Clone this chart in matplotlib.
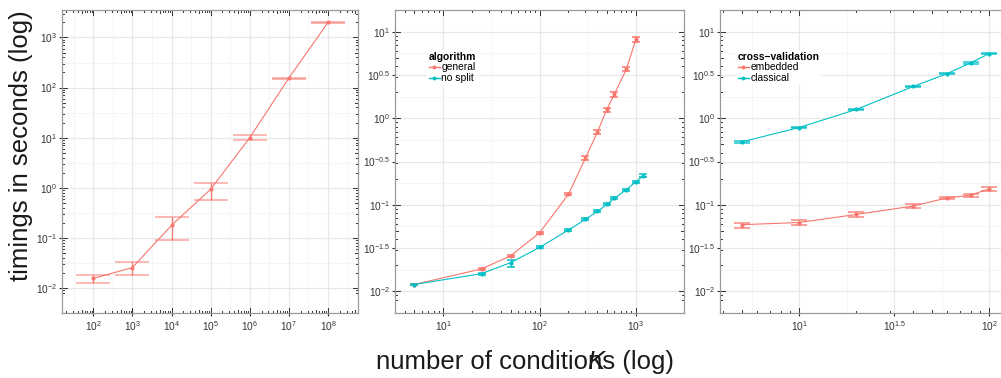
import numpy as np
import matplotlib
matplotlib.use("Agg")
import matplotlib.pyplot as plt
from matplotlib.lines import Line2D
from matplotlib.transforms import blended_transform_factory
from matplotlib.text import Text

plt.rcParams['font.family'] = ['Liberation Sans', 'DejaVu Sans']
plt.rcParams['mathtext.fontset'] = 'custom'
plt.rcParams['mathtext.rm'] = 'Liberation Sans'
plt.rcParams['mathtext.it'] = 'Liberation Sans:italic'
plt.rcParams['mathtext.bf'] = 'Liberation Sans:bold'

RED = '#F8766D'
CYAN = '#00BFC4'

# ---------------- data ----------------
# panel 1: timings vs number of conditions K
p1_K = [1e2, 1e3, 1e4, 1e5, 1e6, 1e7, 1e8]
p1_time = [0.0155, 0.0255, 0.178, 0.933, 10.0, 155, 1995]
p1_upper = [0.0178, 0.0325, 0.266, 1.24, 11.07, 158, 2018]
p1_lower = [0.0124, 0.0178, 0.0891, 0.579, 8.91, 150, 1972]

# panel 2: algorithm comparison
p2_K_general = [5, 25, 50, 100, 200, 300, 400, 500, 600, 800, 1000]
p2_general = [0.0120, 0.01816, 0.0257, 0.0474, 0.1324, 0.3467, 0.695, 1.262, 1.910, 3.698, 8.13]
p2_general_upper = [0.0123, 0.01845, 0.02655, 0.0486, 0.1371, 0.364, 0.736, 1.324, 2.004, 3.926, 8.69]
p2_general_lower = [0.01175, 0.01786, 0.02506, 0.04624, 0.1282, 0.3296, 0.661, 1.180, 1.758, 3.467, 7.60]
p2_K_nosplit = [5, 25, 50, 100, 200, 300, 400, 500, 600, 800, 1000, 1200]
p2_nosplit = [0.0120, 0.01603, 0.02143, 0.03214, 0.0512, 0.0678, 0.0839, 0.1009, 0.1191, 0.150, 0.1845, 0.2178]
p2_nosplit_upper = [0.0123, 0.01650, 0.02307, 0.0330, 0.0526, 0.0697, 0.0862, 0.1036, 0.1224, 0.1542, 0.1895, 0.2238]
p2_nosplit_lower = [0.0117, 0.01560, 0.01923, 0.0313, 0.0498, 0.0660, 0.0817, 0.0982, 0.1159, 0.1460, 0.1797, 0.2120]

# panel 3: cross-validation comparison
p3_K = [5, 10, 20, 40, 60, 80, 100]
p3_embedded = [0.0589, 0.0624, 0.0773, 0.0968, 0.1199, 0.1294, 0.1524]
p3_embedded_upper = [0.0624, 0.0667, 0.0820, 0.1026, 0.1230, 0.1346, 0.1618]
p3_embedded_lower = [0.0542, 0.0579, 0.0724, 0.0912, 0.1169, 0.1242, 0.1439]
p3_classical = [0.533, 0.780, 1.262, 2.328, 3.266, 4.365, 5.559]
p3_classical_upper = [0.543, 0.794, 1.285, 2.371, 3.327, 4.446, 5.662]
p3_classical_lower = [0.523, 0.766, 1.239, 2.286, 3.206, 4.285, 5.458]

p1_xticks = [2, 3, 4, 5, 6, 7, 8]
p1_yticks = [-2, -1, 0, 1, 2, 3]
p2_xticks = [1, 2, 3]
p23_yticks = ['-2', '-1.5', '-1', '-0.5', '0', '0.5', '1']
p3_xticks = ['1', '1.5', '2']

# ---------------- figure ----------------
W, H = 1001, 378
fig = plt.figure(figsize=(W / 100, H / 100), dpi=100)

def px_axes(l, r, t, b):
    return fig.add_axes([l / W, (H - b) / H, (r - l) / W, (b - t) / H])

ax1 = px_axes(62, 358, 10, 313)
ax2 = px_axes(395, 684, 10, 313)
ax3 = px_axes(720, 1008, 10, 313)


def style(ax, xlim, ylim, xmaj, xlab, ymaj, ylab, xmin, ymin):
    ax.set_xscale('log')
    ax.set_yscale('log')
    ax.set_xlim(*xlim)
    ax.set_ylim(*ylim)
    ax.set_xticks(xmaj)
    ax.set_xticklabels(xlab)
    ax.set_yticks(ymaj)
    ax.set_yticklabels(ylab)
    ax.set_xticks(xmin, minor=True)
    ax.set_yticks(ymin, minor=True)
    ax.tick_params(which='minor', length=0)
    ax.tick_params(which='major', length=2.0, width=0.8, color='#333333',
                   labelsize=7.3, labelcolor='#333333', pad=1.5, direction='out')
    ax.tick_params(axis='x', which='major', pad=2.5)
    ax.grid(which='major', color='#E8E8E8', lw=0.9)
    ax.grid(which='minor', color='#F4F4F4', lw=0.6)
    ax.set_axisbelow(True)
    for s in ax.spines.values():
        s.set_color('#9A9A9A')
        s.set_linewidth(0.9)
    # logticks inside on all four sides
    fig.canvas.draw()
    bb = ax.get_window_extent()
    wpx, hpx = bb.width, bb.height
    lengths = {1: 5.0, 5: 3.4, 0: 1.8}
    trx = blended_transform_factory(ax.transData, ax.transAxes)
    try_ = blended_transform_factory(ax.transAxes, ax.transData)
    x0, x1 = xlim
    for k in range(int(np.floor(np.log10(x0))) - 1, int(np.ceil(np.log10(x1))) + 1):
        for m in range(1, 10):
            v = m * 10.0 ** k
            if x0 <= v <= x1:
                L = lengths.get(m, lengths[0]) / hpx
                ax.add_line(Line2D([v, v], [0, L], transform=trx, color='#333333', lw=0.7, clip_on=False))
                ax.add_line(Line2D([v, v], [1, 1 - L], transform=trx, color='#333333', lw=0.7, clip_on=False))
    y0, y1 = ylim
    for k in range(int(np.floor(np.log10(y0))) - 1, int(np.ceil(np.log10(y1))) + 1):
        for m in range(1, 10):
            v = m * 10.0 ** k
            if y0 <= v <= y1:
                L = lengths.get(m, lengths[0]) / wpx
                ax.add_line(Line2D([0, L], [v, v], transform=try_, color='#333333', lw=0.7, clip_on=False))
                ax.add_line(Line2D([1, 1 - L], [v, v], transform=try_, color='#333333', lw=0.7, clip_on=False))


def series(ax, x, y, lo, hi, color, capsize, alpha_cap=0.55):
    y = np.asarray(y)
    err = [y - np.asarray(lo), np.asarray(hi) - y]
    ax.errorbar(x, y, yerr=err, fmt='none', ecolor=color, elinewidth=1.0,
                capsize=capsize, capthick=1.3, alpha=alpha_cap, zorder=3)
    ax.errorbar(x, y, yerr=err, fmt='none', ecolor=color, elinewidth=0.8,
                capsize=0, alpha=0.9, zorder=3)
    ax.plot(x, y, color=color, lw=0.8, marker='o', ms=2.0, zorder=4)


# panel 1
style(ax1, (10 ** 1.2, 10 ** 8.767), (10 ** -2.118, 10 ** 3.548),
      [10.0 ** e for e in p1_xticks], [r'$10^{%d}$' % e for e in p1_xticks],
      [10.0 ** e for e in p1_yticks], [r'$10^{%d}$' % e for e in p1_yticks],
      [10.0 ** (e + 0.5) for e in range(1, 9)], [10.0 ** (e + 0.5) for e in range(-3, 4)])
series(ax1, p1_K, p1_time, p1_lower, p1_upper, RED, 12.2)

# panel 2
yv = [10.0 ** float(s) for s in p23_yticks]
yl = [r'$10^{%s}$' % s.replace('-', '\u2212') for s in p23_yticks]
ymin23 = [10.0 ** (e + 0.25) for e in np.arange(-2.5, 1.01, 0.5)]
style(ax2, (10 ** 0.56, 10 ** 3.228), (10 ** -2.122, 10 ** 1.143),
      [10.0 ** e for e in p2_xticks], [r'$10^{%d}$' % e for e in p2_xticks],
      yv, yl, [10.0 ** (e + 0.5) for e in range(0, 4)], ymin23)
series(ax2, p2_K_general, p2_general, p2_general_lower, p2_general_upper, RED, 2.7, 0.85)
series(ax2, p2_K_nosplit, p2_nosplit, p2_nosplit_lower, p2_nosplit_upper, CYAN, 2.7, 0.85)

# panel 3
style(ax3, (10 ** 0.584, 10 ** 2.1), (10 ** -2.122, 10 ** 1.143),
      [10.0 ** float(s) for s in p3_xticks], [r'$10^{%s}$' % s for s in p3_xticks],
      yv, yl, [10.0 ** e for e in (0.75, 1.25, 1.75)], ymin23)
series(ax3, p3_K, p3_embedded, p3_embedded_lower, p3_embedded_upper, RED, 5.8, 0.75)
series(ax3, p3_K, p3_classical, p3_classical_lower, p3_classical_upper, CYAN, 5.8, 0.75)


def legend(ax, title, labels, x, y):
    handles = [Line2D([], [], color=c, lw=1.0, marker='o', ms=1.8) for c in (RED, CYAN)]
    lg = ax.legend(handles, labels, title=title, loc='upper left', bbox_to_anchor=(x, y),
                   fontsize=7.4, title_fontproperties={'weight': 'bold', 'size': 7.4},
                   frameon=True, facecolor='white', edgecolor='none', framealpha=1,
                   handlelength=1.1, handletextpad=0.15, labelspacing=0.08,
                   borderpad=0.15, borderaxespad=0, alignment='left', fancybox=False)
    lg.set_zorder(10)
    return lg


legend(ax2, 'algorithm', ['general', 'no split'], (428 - 395 - 1) / 289, 1 - (50 - 10) / 303)
legend(ax3, 'cross\u2212validation', ['embedded', 'classical'], (737 - 720 - 1) / 288, 1 - (50 - 10) / 303)

# axis labels
fig.text(21 / W, 1 - 146 / H, 'timings in seconds (log)', rotation=90, ha='center', va='center',
         fontsize=18.5, color='#1a1a1a')
xl = fig.text(525 / W, 16 / H, 'number of conditions (log)', ha='center', va='center',
              fontsize=18.5, color='#1a1a1a')
fig.canvas.draw()
r = fig.canvas.get_renderer()
bb = xl.get_window_extent(r)
tmp = Text(0, 0, 'number of conditio', fontsize=18.5, fontfamily=['Liberation Sans', 'DejaVu Sans'])
tmp.set_figure(fig)
pw = tmp.get_window_extent(r).width
fig.text((bb.x0 + pw - 1) / W, 16 / H, 'K', ha='left', va='center', fontsize=18.5,
         fontstyle='italic', color='#1a1a1a')

fig.savefig('out.png', dpi=100)
